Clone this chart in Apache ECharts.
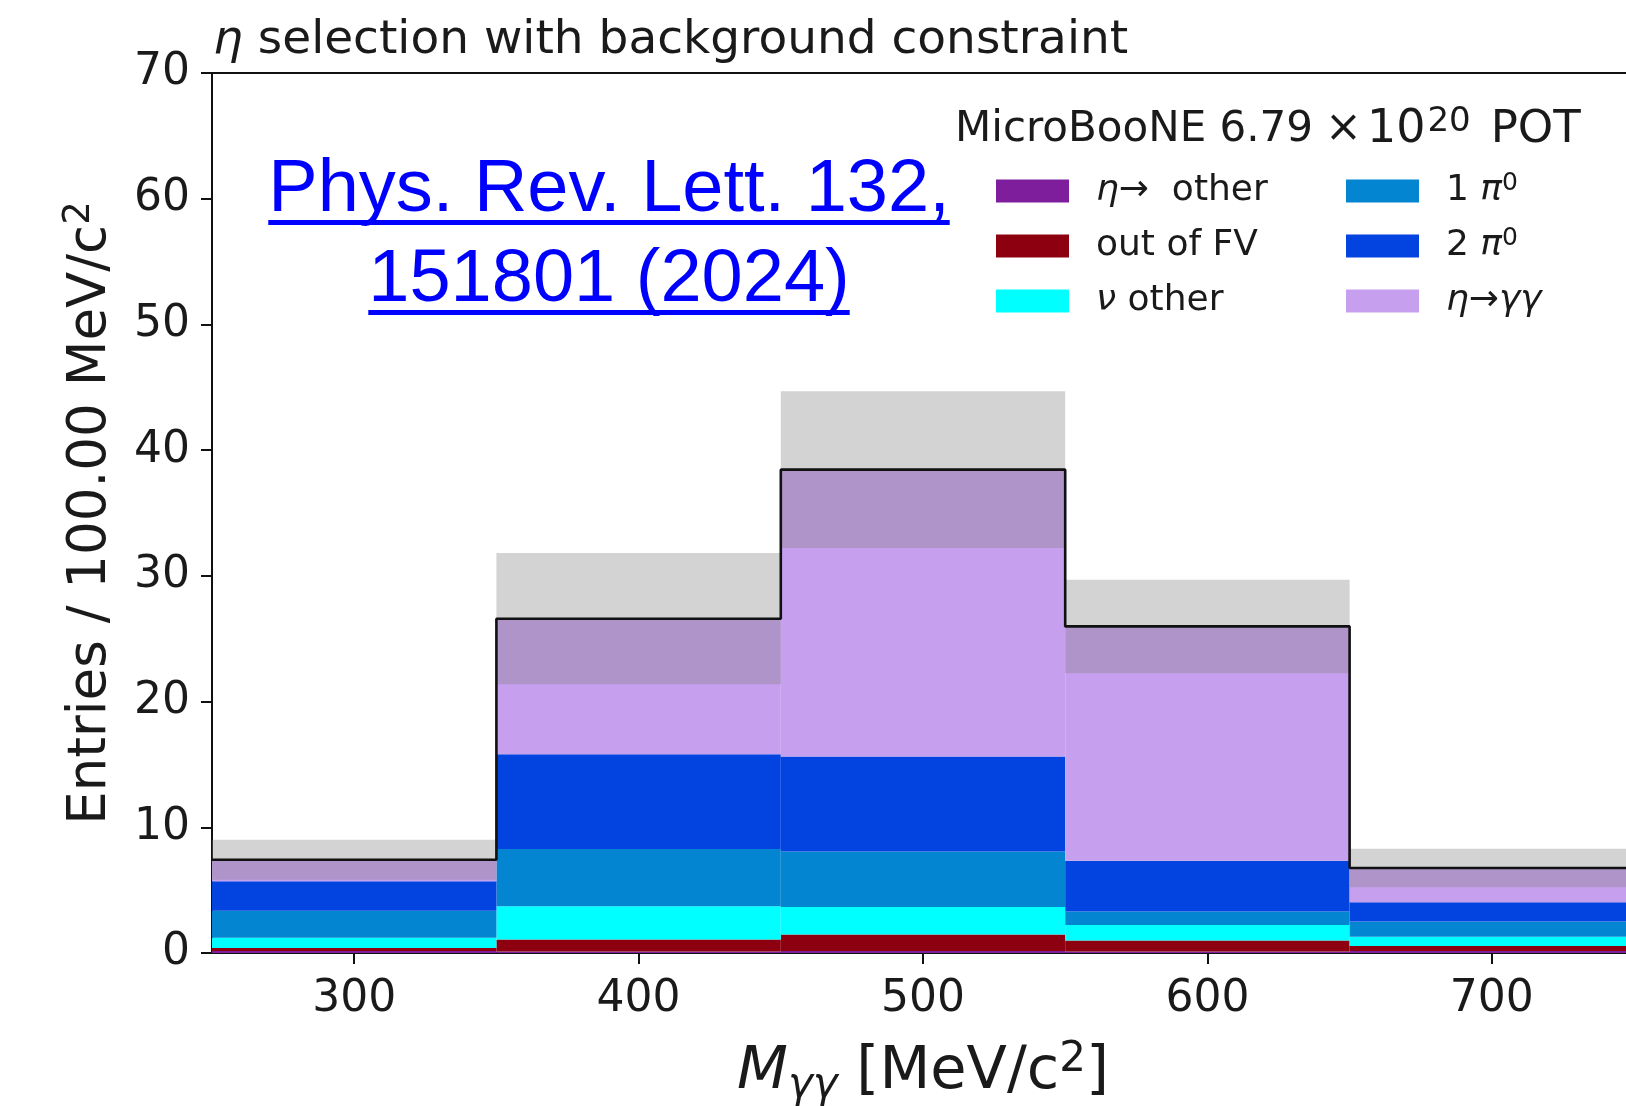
<!DOCTYPE html>
<html>
<head>
<meta charset="utf-8">
<title>η selection with background constraint</title>
<script src="https://cdn.jsdelivr.net/npm/echarts@6/dist/echarts.min.js"></script>
<style>
  html, body { margin: 0; padding: 0; background: #fff; }
  #chart { width: 1626px; height: 1106px; }
</style>
</head>
<body>
<div id="chart"></div>
<script>
// Histogram bins of the diphoton invariant mass (MeV/c^2)
const bins = ['250-350', '350-450', '450-550', '550-650', '650-750'];
const binEdges = [250, 350, 450, 550, 650, 750];
const xTicks = [300, 400, 500, 600, 700];

// Stacked predicted entries per bin, bottom to top
const etaOther = [0.15, 0.12, 0.15, 0.12, 0.15];
const outOfFV  = [0.25, 0.96, 1.33, 0.88, 0.40];
const nuOther  = [0.82, 2.63, 2.18, 1.23, 0.75];
const onePi0   = [2.14, 4.56, 4.42, 1.08, 1.21];
const twoPi0   = [2.34, 7.53, 7.56, 4.03, 1.52];
const etaGG    = [1.72, 10.79, 22.81, 18.64, 2.73];

// Systematic uncertainty on the total prediction (half-width of the band)
const sysErr = [1.59, 5.22, 6.24, 3.72, 1.53];

const layers = [
  { name: 'eta_other', label: '{i|η}→  other', data: etaOther, color: '#7e1e9c' },
  { name: 'out_fv',    label: 'out of FV',      data: outOfFV,  color: '#8c000f' },
  { name: 'nu_other',  label: '{i|ν} other',    data: nuOther,  color: '#00ffff' },
  { name: 'one_pi0',   label: '1 {i|π}{sup|0}', data: onePi0,   color: '#0485d1' },
  { name: 'two_pi0',   label: '2 {i|π}{sup|0}', data: twoPi0,   color: '#0343df' },
  { name: 'eta_gg',    label: '{i|η}→{i|γγ}',   data: etaGG,    color: '#c79fef' }
];
const labelOf = {};
layers.forEach(l => { labelOf[l.name] = l.label; });

const totals = bins.map((_, i) => layers.reduce((s, l) => s + l.data[i], 0));
const bandLow = totals.map((t, i) => t - sysErr[i]);
const bandWidth = sysErr.map(e => 2 * e);
const outline = binEdges.map((e, i) => [e, totals[Math.min(i, totals.length - 1)]]);

const FONT = '"DejaVu Sans", sans-serif';
const INK = '#1a1a1a';

const chart = echarts.init(document.getElementById('chart'), null, { renderer: 'canvas' });

const series = layers.map(l => ({
  name: l.name,
  type: 'bar',
  stack: 'pred',
  xAxisIndex: 0,
  yAxisIndex: 0,
  data: l.data,
  barWidth: '100%',
  barGap: '-100%',
  barCategoryGap: 0,
  itemStyle: { color: l.color },
  silent: true
}));

series.push({
  name: 'band_base',
  type: 'bar',
  stack: 'band',
  data: bandLow,
  barWidth: '100%',
  barGap: '-100%',
  itemStyle: { color: 'rgba(0,0,0,0)' },
  silent: true
});
series.push({
  name: 'band',
  type: 'bar',
  stack: 'band',
  data: bandWidth,
  barWidth: '100%',
  barGap: '-100%',
  itemStyle: { color: 'rgba(128,128,128,0.35)' },
  silent: true
});
series.push({
  name: 'total',
  type: 'line',
  xAxisIndex: 1,
  yAxisIndex: 0,
  step: 'end',
  data: outline,
  symbol: 'none',
  lineStyle: { color: '#111', width: 2.6 },
  silent: true,
  z: 5
});

// Citation text with underline, measured so the rule spans the text
const cite = ['Phys. Rev. Lett. 132,', '151801 (2024)'];
const citeFontSize = 74;
const citeFont = citeFontSize + 'px "Liberation Sans", Arial, sans-serif';
const meas = document.createElement('canvas').getContext('2d');
meas.font = citeFont;
const citeCx = 609;
const citeY = [191, 281];
const citeGraphics = [];
cite.forEach((t, k) => {
  const w = meas.measureText(t).width;
  citeGraphics.push({
    type: 'text',
    x: citeCx,
    y: citeY[k],
    style: {
      text: t,
      fill: '#0000ff',
      font: citeFont,
      textAlign: 'center',
      textVerticalAlign: 'middle'
    },
    z: 10
  });
  citeGraphics.push({
    type: 'rect',
    shape: { x: citeCx - w / 2, y: citeY[k] + 29, width: w, height: 5 },
    style: { fill: '#0000ff' },
    z: 10
  });
});

const legendRich = {
  i: { fontFamily: FONT, fontSize: 36, fontStyle: 'italic', color: INK, lineHeight: 40 },
  sup: { fontFamily: FONT, fontSize: 25, color: INK, lineHeight: 25, verticalAlign: 'top' }
};
const legendCommon = {
  orient: 'vertical',
  selectedMode: false,
  icon: 'rect',
  itemWidth: 73,
  itemHeight: 23,
  itemGap: 15,
  formatter: name => labelOf[name],
  textStyle: {
    fontFamily: FONT,
    fontSize: 36,
    lineHeight: 40,
    color: INK,
    padding: [0, 0, 0, 22],
    rich: legendRich
  }
};

chart.setOption({
  animation: false,
  backgroundColor: '#ffffff',
  title: [
    {
      text: '{i|η} selection with background constraint',
      left: 208,
      top: 12,
      textStyle: {
        fontFamily: FONT, fontSize: 47, fontWeight: 'normal', color: INK,
        rich: { i: { fontFamily: FONT, fontSize: 47, fontStyle: 'italic', color: INK } }
      }
    },
    {
      text: 'MicroBooNE 6.79{x|×}{t|10}{sup|20}{p|POT}',
      left: 950,
      top: 100,
      textStyle: {
        fontFamily: FONT, fontSize: 42, fontWeight: 'normal', color: INK, lineHeight: 50,
        rich: {
          x: { fontFamily: FONT, fontSize: 44, color: INK, lineHeight: 50, padding: [0, 5, 0, 12] },
          t: { fontFamily: FONT, fontSize: 46, color: INK, lineHeight: 50 },
          sup: { fontFamily: FONT, fontSize: 34, color: INK, lineHeight: 34, verticalAlign: 'top', padding: [0, 4, 0, 2] },
          p: { fontFamily: FONT, fontSize: 45, color: INK, lineHeight: 50, padding: [0, 0, 0, 16] }
        }
      }
    }
  ],
  legend: [
    Object.assign({}, legendCommon, {
      left: 991, top: 166,
      data: ['eta_other', 'out_fv', 'nu_other']
    }),
    Object.assign({}, legendCommon, {
      left: 1341, top: 166,
      data: ['one_pi0', 'two_pi0', 'eta_gg']
    })
  ],
  grid: {
    left: 212, top: 73, bottom: 153, right: -8,
    outerBoundsMode: 'none',
    containLabel: false,
    show: true, borderColor: '#111', borderWidth: 2,
    backgroundColor: 'transparent'
  },
  xAxis: [
    {
      type: 'category',
      data: bins,
      show: false,
      boundaryGap: true
    },
    {
      type: 'value',
      min: binEdges[0],
      max: binEdges[binEdges.length - 1],
      position: 'bottom',
      splitLine: { show: false },
      axisLine: { show: true, onZero: false, lineStyle: { color: '#111', width: 2 } },
      axisTick: { show: true, inside: false, length: 11, lineStyle: { color: '#111', width: 2 }, customValues: xTicks },
      axisLabel: { fontFamily: FONT, fontSize: 44, color: INK, margin: 25, customValues: xTicks },
      name: '{m|M}{s|γγ} [MeV/c{sup|2}]',
      nameLocation: 'middle',
      nameGap: 86,
      nameTextStyle: {
        fontFamily: FONT, fontSize: 59, color: INK, lineHeight: 68,
        rich: {
          m: { fontFamily: FONT, fontSize: 59, fontStyle: 'italic', color: INK, lineHeight: 68 },
          s: { fontFamily: FONT, fontSize: 42, fontStyle: 'italic', color: INK, lineHeight: 42, verticalAlign: 'bottom' },
          sup: { fontFamily: FONT, fontSize: 42, color: INK, lineHeight: 42, verticalAlign: 'top' }
        }
      }
    }
  ],
  yAxis: {
    type: 'value',
    min: 0,
    max: 70,
    interval: 10,
    splitLine: { show: false },
    axisLine: { show: true, lineStyle: { color: '#111', width: 2 } },
    axisTick: { show: true, inside: false, length: 11, lineStyle: { color: '#111', width: 2 } },
    axisLabel: { fontFamily: FONT, fontSize: 44, color: INK, margin: 22 },
    name: 'Entries / 100.00 MeV/c{sup|2}',
    nameLocation: 'middle',
    nameRotate: 90,
    nameGap: 91,
    nameTextStyle: {
      fontFamily: FONT, fontSize: 53, color: INK, lineHeight: 60,
      rich: { sup: { fontFamily: FONT, fontSize: 37, color: INK, lineHeight: 37, verticalAlign: 'top' } }
    }
  },
  graphic: citeGraphics,
  series: series
});
</script>
</body>
</html>
